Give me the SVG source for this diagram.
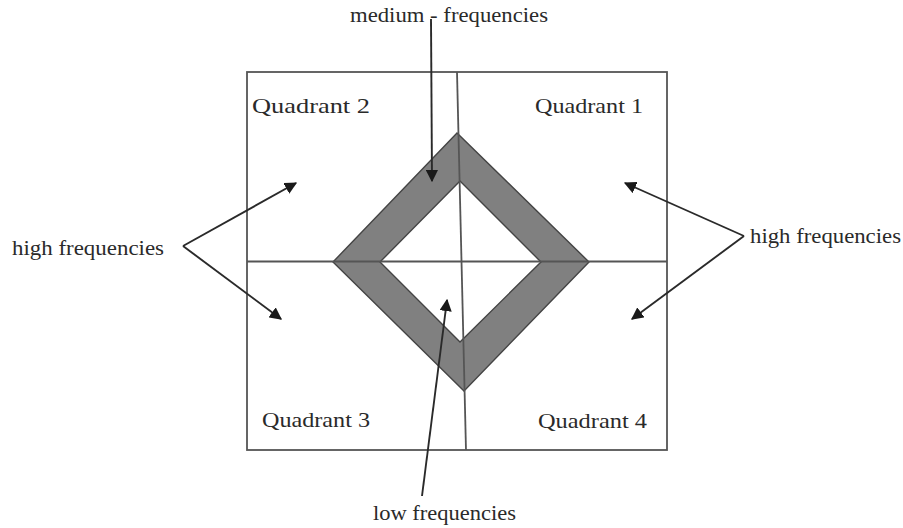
<svg xmlns="http://www.w3.org/2000/svg" width="903" height="528" viewBox="0 0 903 528">
<defs>
<style>
text{font-family:"Liberation Serif","Times New Roman",serif;font-size:21px;fill:#2a2a2a}
.frame{fill:none;stroke:#555;stroke-width:1.8}
.arrow{fill:none;stroke:#2a2a2a;stroke-width:1.9;marker-end:url(#ah)}
</style>
<marker id="ah" viewBox="0 0 10 10" refX="9" refY="5" markerWidth="6.5" markerHeight="6.5" orient="auto" markerUnits="strokeWidth">
<path d="M0,0 L10,5 L0,10 z" fill="#1a1a1a"/>
</marker>
</defs>
<rect width="903" height="528" fill="#fff"/>
<g id="plane">
<path d="M333,262 L457,133 L589,262 L464,391 Z M380,262 L460,181 L541,262 L460,342 Z" fill="#808080" fill-rule="evenodd" stroke="#444" stroke-width="1.4"/>
<rect class="frame" x="247" y="72" width="420" height="378"/>
<line class="frame" x1="247" y1="261.5" x2="667" y2="261.5"/>
<line class="frame" x1="457" y1="72" x2="466" y2="450"/>
</g>
<g id="q1"><text x="535" y="113" textLength="108" lengthAdjust="spacingAndGlyphs">Quadrant 1</text></g>
<g id="q2"><text x="252" y="113" textLength="118" lengthAdjust="spacingAndGlyphs">Quadrant 2</text></g>
<g id="q3"><text x="262" y="427" textLength="108" lengthAdjust="spacingAndGlyphs">Quadrant 3</text></g>
<g id="q4"><text x="538" y="428" textLength="109" lengthAdjust="spacingAndGlyphs">Quadrant 4</text></g>
<g id="medium"><text x="350" y="22" textLength="198" lengthAdjust="spacingAndGlyphs">medium - frequencies</text></g>
<g id="low"><text x="373" y="520" textLength="143" lengthAdjust="spacingAndGlyphs">low frequencies</text></g>
<g id="highL"><text x="12" y="255" textLength="152" lengthAdjust="spacingAndGlyphs">high frequencies</text></g>
<g id="highR"><text x="750" y="243" textLength="151" lengthAdjust="spacingAndGlyphs">high frequencies</text></g>
<g id="connectors">
<line class="arrow" x1="431" y1="19" x2="432" y2="181"/>
<line class="arrow" x1="422" y1="496" x2="447" y2="300"/>
<line class="arrow" x1="183" y1="246" x2="296" y2="183"/>
<line class="arrow" x1="183" y1="246" x2="281" y2="319"/>
<line class="arrow" x1="744" y1="236" x2="625" y2="183"/>
<line class="arrow" x1="744" y1="236" x2="632" y2="319"/>
</g>
</svg>
